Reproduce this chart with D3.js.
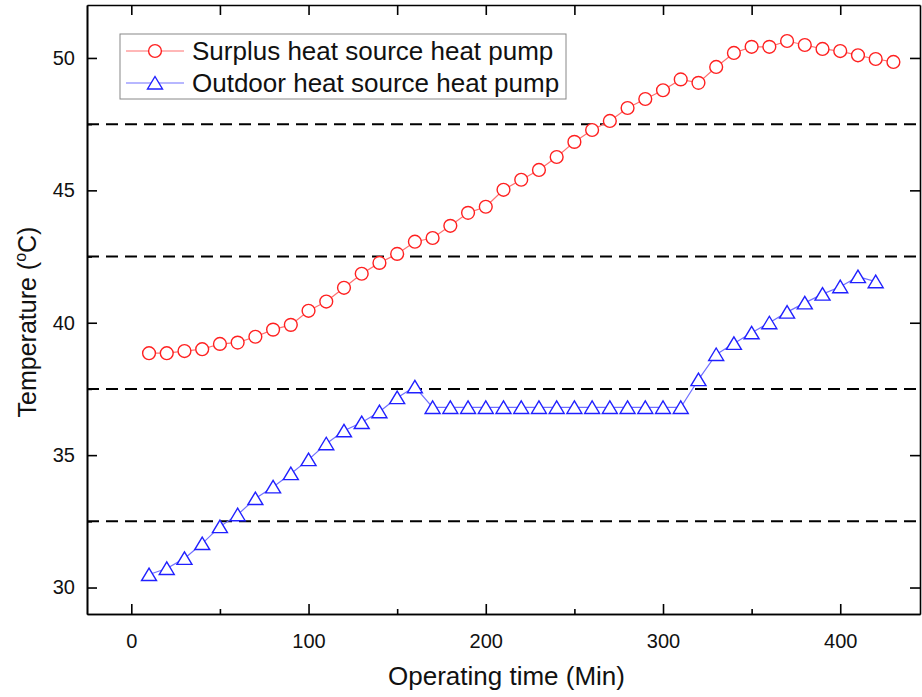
<!DOCTYPE html>
<html><head><meta charset="utf-8">
<script src="https://cdn.jsdelivr.net/npm/d3@7"></script>
<style>body{margin:0;background:#fff}svg{display:block}text{font-family:"Liberation Sans",Arial,sans-serif}</style>
</head><body><svg id="c" width="922" height="697"></svg>
<script>
const timeSurplus = d3.range(10, 431, 10);
const surplus = [38.85,38.85,38.93,39.0,39.2,39.25,39.47,39.74,39.92,40.45,40.8,41.32,41.85,42.26,42.6,43.06,43.2,43.66,44.15,44.38,45.02,45.4,45.77,46.26,46.83,47.28,47.62,48.11,48.45,48.78,49.19,49.06,49.66,50.19,50.42,50.42,50.64,50.49,50.34,50.26,50.1,49.96,49.85];
const timeOutdoor = d3.range(10, 421, 10);
const outdoor = [30.49,30.72,31.1,31.66,32.3,32.75,33.36,33.8,34.3,34.83,35.43,35.92,36.23,36.64,37.17,37.58,36.8,36.8,36.8,36.8,36.8,36.8,36.8,36.8,36.8,36.8,36.8,36.8,36.8,36.8,36.8,37.85,38.8,39.22,39.62,40.0,40.4,40.75,41.08,41.36,41.74,41.55];
const xTicks = [0,100,200,300,400];
const yTicks = [30,35,40,45,50];
const refLines = [32.5,37.5,42.5,47.5];
const seriesNames = ["Surplus heat source heat pump","Outdoor heat source heat pump"];

const svg = d3.select("#c");
const L=87,R=920,T=5,B=614;
const x = d3.scaleLinear().domain([-25,445]).range([L,R]);
const y = d3.scaleLinear().domain([29,52]).range([B,T]);

// dashed reference lines
svg.selectAll("line.ref").data(refLines).join("line")
  .attr("x1",L).attr("x2",R).attr("y1",d=>y(d)).attr("y2",d=>y(d))
  .attr("stroke","#000").attr("stroke-width",2).attr("stroke-dasharray","12,7");

// axes
const gB = svg.append("g").attr("transform",`translate(0,${B})`)
  .call(d3.axisBottom(x).tickValues(xTicks).tickSizeInner(-10).tickSizeOuter(0).tickPadding(20));
const gBm = svg.append("g").attr("transform",`translate(0,${B})`)
  .call(d3.axisBottom(x).tickValues([50,150,250,350]).tickSizeInner(-5).tickSizeOuter(0).tickFormat(""));
const gT = svg.append("g").attr("transform",`translate(0,${T})`)
  .call(d3.axisTop(x).tickValues([0,50,100,150,200,250,300,350,400]).tickSizeInner(-10).tickSizeOuter(0).tickFormat(""));
const gL = svg.append("g").attr("transform",`translate(${L},0)`)
  .call(d3.axisLeft(y).tickValues(yTicks).tickSizeInner(-10).tickSizeOuter(0).tickPadding(12));
const gLm = svg.append("g").attr("transform",`translate(${L},0)`)
  .call(d3.axisLeft(y).tickValues(refLines).tickSizeInner(-5).tickSizeOuter(0).tickFormat(""));
const gR = svg.append("g").attr("transform",`translate(${R},0)`)
  .call(d3.axisRight(y).tickValues(yTicks).tickSizeInner(-10).tickSizeOuter(0).tickFormat(""));
[gB,gBm,gT,gL,gLm,gR].forEach(g=>{
  g.select(".domain").attr("stroke","#000").attr("stroke-width",1.6);
  g.selectAll(".tick line").attr("stroke","#000").attr("stroke-width",1.6);
  g.selectAll(".tick text").attr("font-size",20).attr("fill","#111").style("font-family","Liberation Sans, Arial, sans-serif");
});

// axis titles
svg.append("text").attr("x",(L+R)/2+3).attr("y",685).attr("text-anchor","middle")
  .attr("font-size",26).attr("fill","#111").text("Operating time (Min)");
const yt = svg.append("text").attr("transform",`translate(36,322) rotate(-90)`)
  .attr("text-anchor","middle").attr("font-size",25).attr("fill","#111");
yt.append("tspan").text("Temperature (");
yt.append("tspan").attr("font-size",16).attr("dy",-10).text("o");
yt.append("tspan").attr("dy",10).text("C)");

// lines
const line = d3.line().x(d=>x(d[0])).y(d=>y(d[1]));
const sData = timeSurplus.map((t,i)=>[t,surplus[i]]);
const oData = timeOutdoor.map((t,i)=>[t,outdoor[i]]);
svg.append("path").datum(sData).attr("d",line).attr("fill","none").attr("stroke","#ff7070").attr("stroke-width",1.2);
svg.append("path").datum(oData).attr("d",line).attr("fill","none").attr("stroke","#7070ff").attr("stroke-width",1.2);

const tri = (cx,cy)=>`M${cx},${cy-6.5}L${cx+7.5},${cy+6}L${cx-7.5},${cy+6}Z`;
svg.selectAll("circle.s").data(sData).join("circle")
  .attr("cx",d=>x(d[0])).attr("cy",d=>y(d[1])).attr("r",6.4)
  .attr("fill","#fff").attr("stroke","#ff2020").attr("stroke-width",1.4);
svg.selectAll("path.o").data(oData).join("path")
  .attr("d",d=>tri(x(d[0]),y(d[1]))).attr("fill","#fff").attr("stroke","#2020ff").attr("stroke-width",1.4);

// legend
const lg = svg.append("g");
lg.append("rect").attr("x",120).attr("y",34).attr("width",446).attr("height",65)
  .attr("fill","#fff").attr("stroke","#888").attr("stroke-width",1);
const rows=[{c:"#ff2020",l:"#ff7070",y:51,m:"c"},{c:"#2020ff",l:"#7070ff",y:83,m:"t"}];
rows.forEach((r,i)=>{
  lg.append("line").attr("x1",126).attr("x2",184).attr("y1",r.y).attr("y2",r.y).attr("stroke",r.l).attr("stroke-width",1.2);
  if(r.m==="c") lg.append("circle").attr("cx",155).attr("cy",r.y).attr("r",6.4).attr("fill","#fff").attr("stroke",r.c).attr("stroke-width",1.4);
  else lg.append("path").attr("d",tri(155,r.y)).attr("fill","#fff").attr("stroke",r.c).attr("stroke-width",1.4);
  lg.append("text").attr("x",192).attr("y",r.y+9).attr("font-size",26).attr("fill","#111").text(seriesNames[i]);
});
</script></body></html>
